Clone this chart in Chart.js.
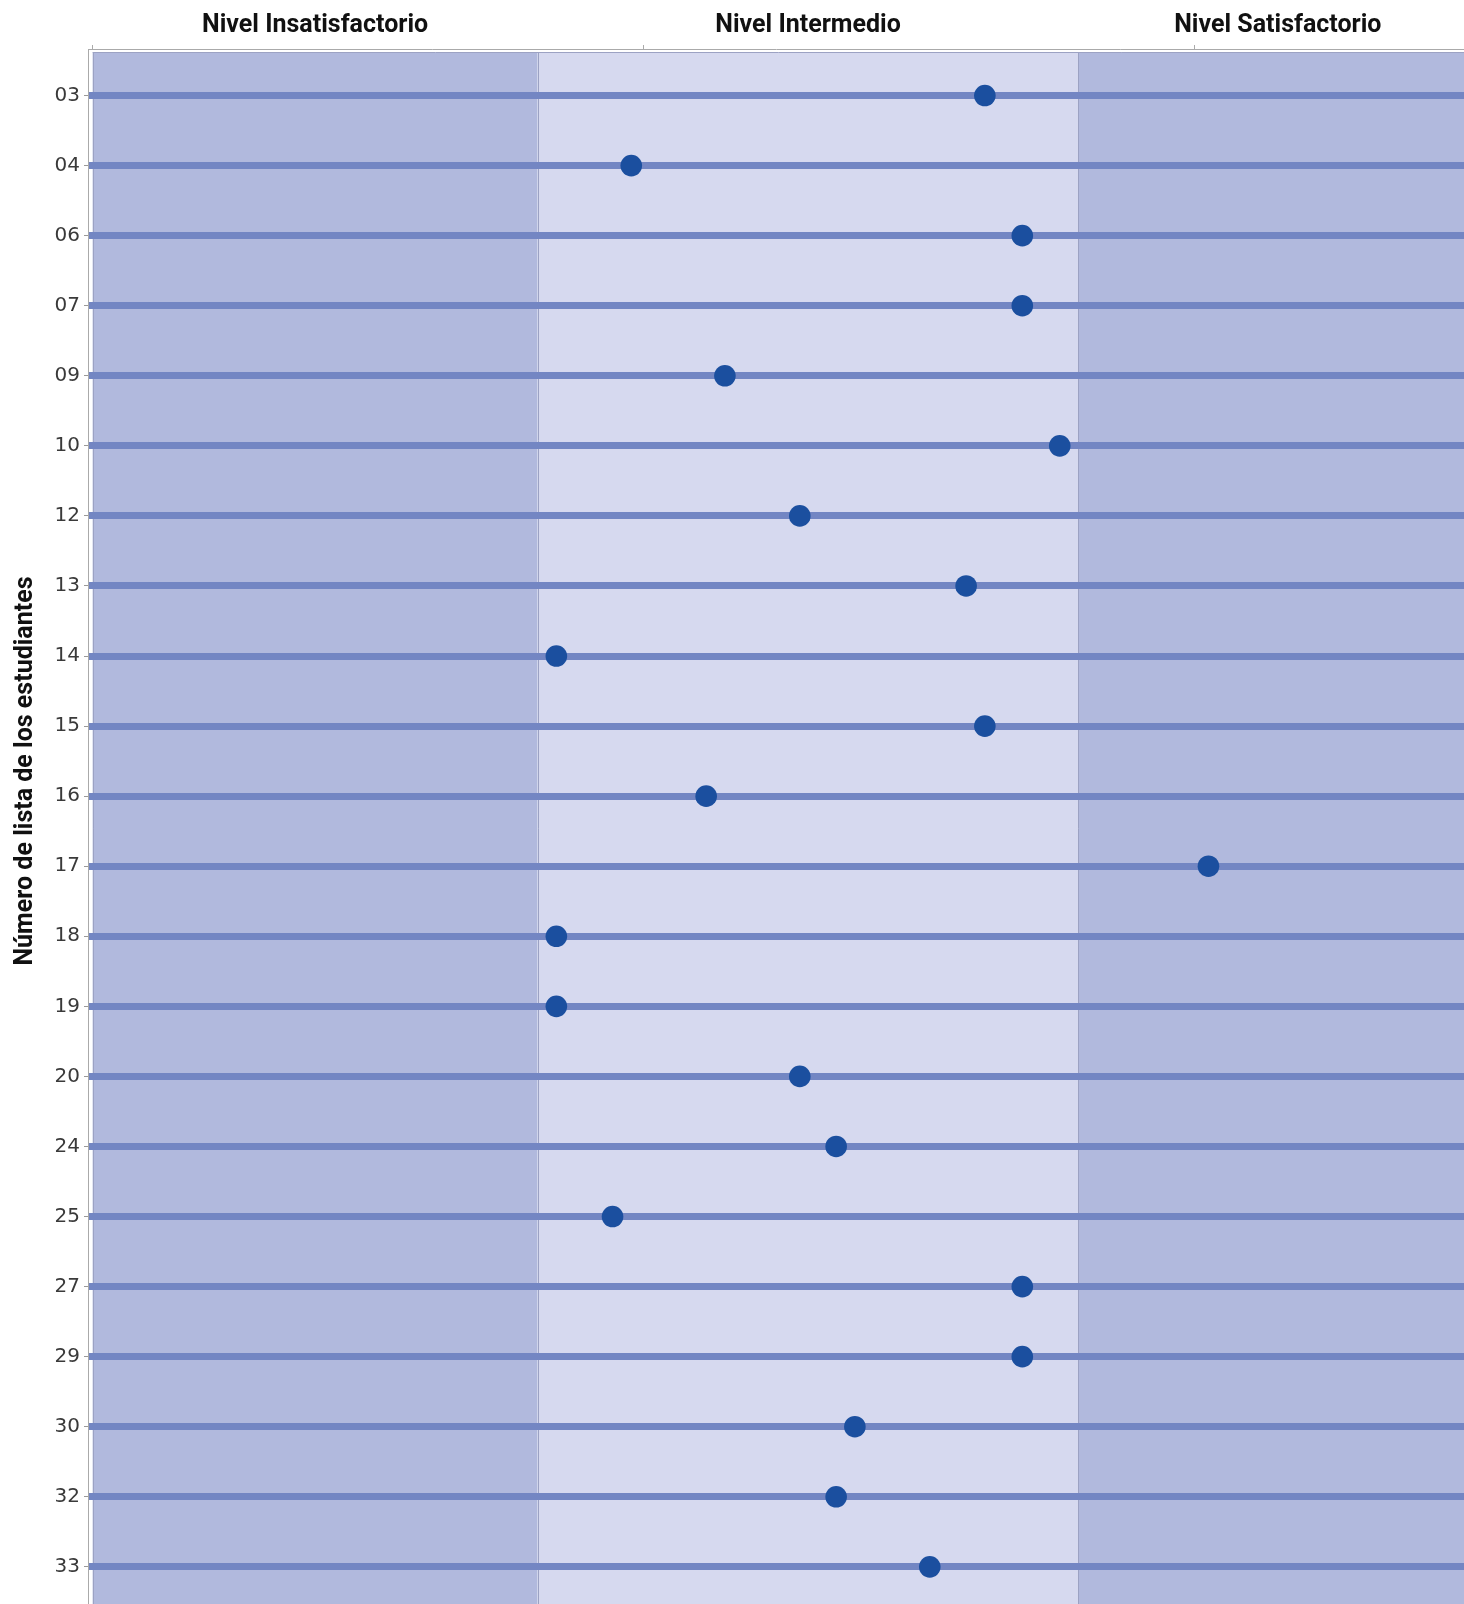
<!DOCTYPE html>
<html>
<head>
<meta charset="utf-8">
<script src="https://cdn.jsdelivr.net/npm/chart.js@4.4.1/dist/chart.umd.min.js"></script>
<style>
  html, body { margin: 0; padding: 0; background: #fff; overflow: hidden; }
  #wrap { width: 1464px; height: 1604px; position: relative; }
  #chart { display: block; }
</style>
</head>
<body>
<div id="wrap"><canvas id="chart"></canvas></div>
<script>
// 1. Data
// student list numbers, top to bottom
const students = ['03', '04', '06', '07', '09', '10', '12', '13', '14', '15', '16',
                  '17', '18', '19', '20', '24', '25', '27', '29', '30', '32', '33'];
// score of each student, on the scale where the three small top ticks are 0 / 50 / 100
const scores = [81.0, 48.9, 84.4, 84.4, 57.4, 87.8, 64.2, 79.3, 42.1, 81.0, 55.7,
                101.3, 42.1, 42.1, 64.2, 67.5, 47.2, 84.4, 84.4, 69.2, 67.5, 76.0];
// achievement levels and where each one starts / ends
const levels = ['Nivel Insatisfactorio', 'Nivel Intermedio', 'Nivel Satisfactorio'];
const levelLimits = [0, 40.4, 89.5, 125.7];
// the small tick marks on the top axis
const axisTicks = [0, 50, 100];

const bandColors = ['#b1b9dd', '#d6d9ef', '#b1b9dd'];
const levelCenters = levels.map((_, i) => (levelLimits[i] + levelLimits[i + 1]) / 2);

// Chart.js reserves room for edge labels; the plot here runs to the canvas edges
function fixBox(size) {
    return (scale) => {
        if (scale.isHorizontal()) scale.height = size; else scale.width = size;
        scale.paddingLeft = scale.paddingRight = scale.paddingTop = scale.paddingBottom = 0;
    };
}

// 2. Background bands behind the rows + rotated y title
const bandsPlugin = {
    id: 'bands',
    beforeDraw(chart) {
        const { ctx, chartArea: area, scales: { x } } = chart;
        const top = area.top + 3.5;
        ctx.save();
        ctx.beginPath();
        ctx.rect(area.left, area.top, area.right - area.left, area.bottom - area.top);
        ctx.clip();
        levels.forEach((name, i) => {
            const x0 = x.getPixelForValue(levelLimits[i]);
            const x1 = x.getPixelForValue(levelLimits[i + 1]);
            ctx.fillStyle = bandColors[i];
            ctx.fillRect(x0, top, x1 - x0, area.bottom - top);
        });
        // thin frame + separators between levels
        ctx.strokeStyle = '#9ca2c3';
        ctx.lineWidth = 1;
        ctx.beginPath();
        const left = x.getPixelForValue(levelLimits[0]);
        ctx.moveTo(left, top);
        ctx.lineTo(area.right, top);
        for (let i = 0; i < levels.length; i++) {
            const px = Math.round(x.getPixelForValue(levelLimits[i])) + 0.5;
            ctx.moveTo(px, top);
            ctx.lineTo(px, area.bottom);
        }
        ctx.stroke();
        ctx.restore();
    },
    afterDraw(chart) {
        const { ctx } = chart;
        ctx.save();
        ctx.translate(32, 771);
        ctx.rotate(-Math.PI / 2);
        ctx.font = 'bold 25px Roboto';
        ctx.fillStyle = '#111';
        ctx.textAlign = 'center';
        ctx.textBaseline = 'alphabetic';
        ctx.fillText('Número de lista de los estudiantes', 0, 0);
        ctx.restore();
    }
};

// 3. Chart
const points = scores.map((s, i) => ({ x: s, y: i }));

new Chart(document.getElementById('chart'), {
    type: 'scatter',
    data: {
        datasets: [{
            data: points,
            backgroundColor: '#1b4f9f',
            borderWidth: 0,
            pointRadius: 10.8,
            pointHoverRadius: 10.8
        }]
    },
    options: {
        responsive: true,
        maintainAspectRatio: false,
        animation: false,
        layout: { padding: 0, autoPadding: false },
        plugins: {
            legend: { display: false },
            tooltip: { enabled: false }
        },
        scales: {
            x: {
                type: 'linear',
                position: 'top',
                min: -0.42,
                max: 124.5,
                afterBuildTicks: (axis) => {
                    axis.ticks = [...axisTicks, ...levelCenters].map(v => ({ value: v }));
                },
                afterFit: fixBox(49),
                ticks: {
                    autoSkip: false,
                    maxRotation: 0,
                    minRotation: 0,
                    padding: 4,
                    color: '#111',
                    font: { family: 'Roboto', size: 25, weight: 'bold' },
                    callback: (value) => {
                        const i = levelCenters.indexOf(value);
                        return i >= 0 ? levels[i] : '';
                    }
                },
                grid: {
                    drawOnChartArea: false,
                    drawTicks: true,
                    tickLength: 4,
                    tickWidth: 1,
                    tickColor: (ctx) => (ctx.tick && axisTicks.includes(ctx.tick.value)) ? '#aaaaaa' : 'rgba(0,0,0,0)'
                },
                border: { display: true, color: '#aaaaaa', width: 1 }
            },
            y: {
                type: 'linear',
                reverse: true,
                min: -0.664,
                max: 21.53,
                afterBuildTicks: (axis) => {
                    axis.ticks = students.map((s, i) => ({ value: i }));
                },
                afterFit: fixBox(88),
                ticks: {
                    autoSkip: false,
                    padding: 4,
                    color: '#3a3a3a',
                    font: { family: 'DejaVu Sans', size: 20 },
                    callback: (value) => students[value] ?? ''
                },
                grid: {
                    color: '#7386c3',
                    lineWidth: 7,
                    drawTicks: true,
                    tickLength: 4,
                    tickWidth: 1,
                    tickColor: '#999999'
                },
                border: { display: true, color: '#aaaaaa', width: 1 }
            }
        }
    },
    plugins: [bandsPlugin]
});
</script>
</body>
</html>
